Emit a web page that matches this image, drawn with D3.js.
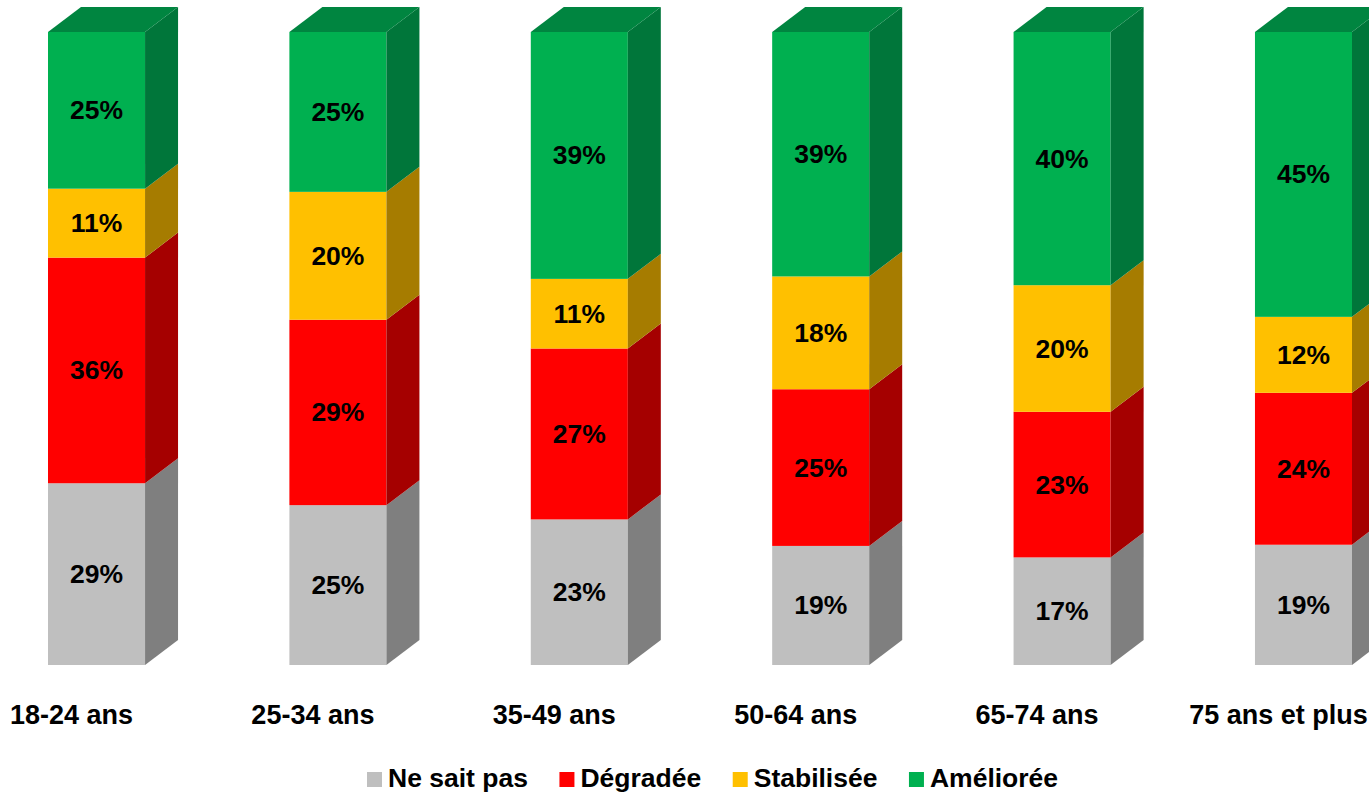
<!DOCTYPE html>
<html><head><meta charset="utf-8">
<script src="https://cdn.jsdelivr.net/npm/d3@7"></script>
<style>
html,body{margin:0;padding:0;background:#fff;overflow:hidden;}
text{font-family:"Liberation Sans",Arial,sans-serif;font-weight:bold;fill:#000;}
</style></head>
<body>
<svg id="chart" width="1369" height="794"></svg>
<script>
const categories = ["18-24 ans","25-34 ans","35-49 ans","50-64 ans","65-74 ans","75 ans et plus"];
const seriesNames = ["Ne sait pas","Dégradée","Stabilisée","Améliorée"];
const neSaitPas = [29,25,23,19,17,19];
const degradee  = [36,29,27,25,23,24];
const stabilisee= [11,20,11,18,20,12];
const amelioree = [25,25,39,39,40,45];
const frontColors = ["#BFBFBF","#FF0000","#FFC000","#00B050"];
const sideColors  = ["#7F7F7F","#A50000","#A67C00","#00763A"];
const topColor = "#008540";

const seriesValues = [neSaitPas, degradee, stabilisee, amelioree];
const svg = d3.select("#chart");
const dx = 33, dy = 25;

const x = d3.scaleBand().domain(categories).range([48, 1352]).paddingInner(0.598).paddingOuter(0);
const y = d3.scaleLinear().domain([0, 100]).range([665, 32]);

const rows = categories.map((c, i) => {
  const row = {cat: c};
  seriesNames.forEach((s, j) => row[s] = seriesValues[j][i]);
  return row;
});
const stacked = d3.stack().keys(seriesNames).offset(d3.stackOffsetExpand)(rows);

const g = svg.append("g");
stacked.forEach((layer, j) => {
  layer.forEach((d, i) => {
    const x0 = x(categories[i]), w = x.bandwidth();
    const yb = y(d[0] * 100), yt = y(d[1] * 100);
    g.append("rect").attr("x", x0).attr("y", yt).attr("width", w).attr("height", yb - yt)
      .attr("fill", frontColors[j]);
    g.append("polygon")
      .attr("points", [[x0 + w, yt], [x0 + w + dx, yt - dy], [x0 + w + dx, yb - dy], [x0 + w, yb]].map(p => p.join(",")).join(" "))
      .attr("fill", sideColors[j]);
    if (j === seriesNames.length - 1) {
      g.append("polygon")
        .attr("points", [[x0, yt], [x0 + dx, yt - dy], [x0 + w + dx, yt - dy], [x0 + w, yt]].map(p => p.join(",")).join(" "))
        .attr("fill", topColor);
    }
    g.append("text").attr("x", x0 + w / 2).attr("y", (yt + yb) / 2 + 9)
      .attr("text-anchor", "middle").attr("font-size", 26.5)
      .text(seriesValues[j][i] + "%");
  });
});

svg.append("g").selectAll("text").data(categories).join("text")
  .attr("x", d => x(d) + x.bandwidth() / 2 - 25)
  .attr("y", 724)
  .attr("text-anchor", "middle").attr("font-size", 27)
  .text(d => d);

const leg = svg.append("g");
let lx = 367;
seriesNames.forEach((s, j) => {
  leg.append("rect").attr("x", lx).attr("y", 772).attr("width", 15).attr("height", 15).attr("fill", frontColors[j]);
  const t = leg.append("text").attr("x", lx + 21).attr("y", 787).attr("font-size", 26.5).text(s);
  lx = lx + 21 + t.node().getComputedTextLength() + 31.5;
});
</script>
</body></html>
